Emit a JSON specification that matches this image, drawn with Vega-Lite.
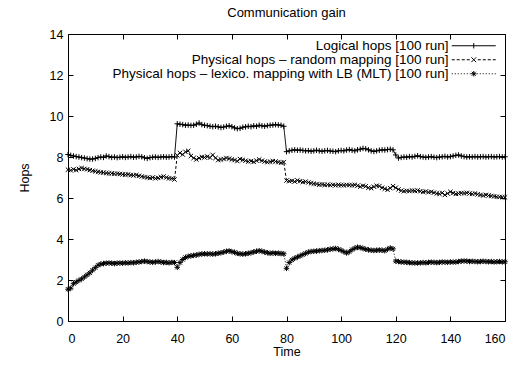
{
"$schema": "https://vega.github.io/schema/vega-lite/v6.json",
"width": 437,
"height": 287,
"autosize": {"type": "none"},
"padding": {"left": 68, "top": 34, "right": 24, "bottom": 44},
"background": "white",
"title": {"text": "Communication gain", "fontSize": 13, "font": "Liberation Sans", "fontWeight": "normal", "anchor": "middle", "offset": 8, "color": "#000"},
"config": {
  "view": {"stroke": null},
  "font": "Liberation Sans",
  "axis": {"labelFont": "Liberation Sans", "titleFont": "Liberation Sans", "labelFontSize": 12.5, "titleFontSize": 12.5, "titleFontWeight": "normal", "labelColor": "#000", "titleColor": "#000", "domainColor": "#000", "tickColor": "#000", "grid": false, "tickSize": -5, "domainWidth": 1, "tickWidth": 1}
},
"data": {"values": [
{"t":0,"a":8.12,"b":7.38,"c":1.55},{"t":1,"a":8.08,"b":7.35,"c":1.6},{"t":2,"a":8.05,"b":7.4,"c":1.82},{"t":3,"a":8.02,"b":7.36,"c":1.9},{"t":4,"a":8.0,"b":7.42,"c":1.98},
{"t":5,"a":7.97,"b":7.46,"c":2.05},{"t":6,"a":7.95,"b":7.42,"c":2.15},{"t":7,"a":7.92,"b":7.4,"c":2.25},{"t":8,"a":7.9,"b":7.36,"c":2.35},{"t":9,"a":7.9,"b":7.33,"c":2.48},
{"t":10,"a":7.93,"b":7.3,"c":2.6},{"t":11,"a":7.97,"b":7.28,"c":2.72},{"t":12,"a":8.0,"b":7.25,"c":2.78},{"t":13,"a":7.98,"b":7.24,"c":2.8},{"t":14,"a":8.05,"b":7.22,"c":2.82},
{"t":15,"a":8.02,"b":7.2,"c":2.83},{"t":16,"a":7.98,"b":7.2,"c":2.82},{"t":17,"a":8.0,"b":7.18,"c":2.8},{"t":18,"a":7.97,"b":7.19,"c":2.82},{"t":19,"a":7.99,"b":7.17,"c":2.83},
{"t":20,"a":8.01,"b":7.15,"c":2.82},{"t":21,"a":7.98,"b":7.14,"c":2.84},{"t":22,"a":8.0,"b":7.15,"c":2.83},{"t":23,"a":8.02,"b":7.12,"c":2.85},{"t":24,"a":7.99,"b":7.1,"c":2.84},
{"t":25,"a":8.0,"b":7.12,"c":2.86},{"t":26,"a":8.03,"b":7.08,"c":2.88},{"t":27,"a":8.01,"b":7.05,"c":2.9},{"t":28,"a":7.96,"b":7.02,"c":2.92},{"t":29,"a":7.93,"b":7.0,"c":2.9},
{"t":30,"a":7.97,"b":6.98,"c":2.88},{"t":31,"a":7.99,"b":7.0,"c":2.86},{"t":32,"a":8.0,"b":6.96,"c":2.88},{"t":33,"a":7.98,"b":6.98,"c":2.9},{"t":34,"a":8.0,"b":7.02,"c":2.88},
{"t":35,"a":8.01,"b":7.05,"c":2.85},{"t":36,"a":7.99,"b":7.0,"c":2.86},{"t":37,"a":8.0,"b":6.96,"c":2.84},{"t":38,"a":8.02,"b":6.95,"c":2.86},{"t":39,"a":8.0,"b":6.9,"c":2.85},
{"t":40,"a":9.62,"b":8.08,"c":2.62},{"t":41,"a":9.6,"b":8.2,"c":2.85},{"t":42,"a":9.58,"b":8.12,"c":3.0},{"t":43,"a":9.55,"b":8.25,"c":3.1},{"t":44,"a":9.56,"b":8.3,"c":3.15},
{"t":45,"a":9.54,"b":8.05,"c":3.18},{"t":46,"a":9.55,"b":7.95,"c":3.2},{"t":47,"a":9.6,"b":7.88,"c":3.22},{"t":48,"a":9.66,"b":7.95,"c":3.25},{"t":49,"a":9.58,"b":8.0,"c":3.27},
{"t":50,"a":9.55,"b":7.98,"c":3.28},{"t":51,"a":9.53,"b":8.02,"c":3.27},{"t":52,"a":9.5,"b":7.97,"c":3.28},{"t":53,"a":9.48,"b":8.1,"c":3.26},{"t":54,"a":9.5,"b":7.95,"c":3.28},
{"t":55,"a":9.47,"b":7.85,"c":3.3},{"t":56,"a":9.44,"b":7.88,"c":3.33},{"t":57,"a":9.46,"b":7.9,"c":3.36},{"t":58,"a":9.5,"b":7.95,"c":3.4},{"t":59,"a":9.52,"b":7.92,"c":3.42},
{"t":60,"a":9.48,"b":7.88,"c":3.38},{"t":61,"a":9.42,"b":7.85,"c":3.35},{"t":62,"a":9.38,"b":7.8,"c":3.3},{"t":63,"a":9.4,"b":7.9,"c":3.28},{"t":64,"a":9.45,"b":7.86,"c":3.26},
{"t":65,"a":9.47,"b":7.82,"c":3.28},{"t":66,"a":9.5,"b":7.78,"c":3.3},{"t":67,"a":9.48,"b":7.8,"c":3.33},{"t":68,"a":9.52,"b":7.76,"c":3.37},{"t":69,"a":9.5,"b":7.82,"c":3.4},
{"t":70,"a":9.55,"b":7.88,"c":3.43},{"t":71,"a":9.52,"b":7.82,"c":3.4},{"t":72,"a":9.5,"b":7.78,"c":3.36},{"t":73,"a":9.53,"b":7.75,"c":3.33},{"t":74,"a":9.55,"b":7.77,"c":3.3},
{"t":75,"a":9.56,"b":7.8,"c":3.32},{"t":76,"a":9.58,"b":7.78,"c":3.3},{"t":77,"a":9.56,"b":7.75,"c":3.31},{"t":78,"a":9.55,"b":7.72,"c":3.29},{"t":79,"a":9.5,"b":7.75,"c":3.28},
{"t":80,"a":8.26,"b":6.85,"c":2.57},{"t":81,"a":8.3,"b":6.82,"c":2.85},{"t":82,"a":8.33,"b":6.84,"c":2.98},{"t":83,"a":8.35,"b":6.8,"c":3.06},{"t":84,"a":8.33,"b":6.86,"c":3.12},
{"t":85,"a":8.34,"b":6.82,"c":3.18},{"t":86,"a":8.32,"b":6.78,"c":3.24},{"t":87,"a":8.3,"b":6.8,"c":3.3},{"t":88,"a":8.31,"b":6.76,"c":3.36},{"t":89,"a":8.28,"b":6.72,"c":3.39},
{"t":90,"a":8.3,"b":6.7,"c":3.4},{"t":91,"a":8.33,"b":6.68,"c":3.41},{"t":92,"a":8.3,"b":6.65,"c":3.43},{"t":93,"a":8.28,"b":6.66,"c":3.44},{"t":94,"a":8.3,"b":6.64,"c":3.45},
{"t":95,"a":8.32,"b":6.65,"c":3.47},{"t":96,"a":8.29,"b":6.63,"c":3.5},{"t":97,"a":8.28,"b":6.64,"c":3.52},{"t":98,"a":8.26,"b":6.62,"c":3.54},{"t":99,"a":8.3,"b":6.64,"c":3.5},
{"t":100,"a":8.32,"b":6.63,"c":3.45},{"t":101,"a":8.3,"b":6.62,"c":3.38},{"t":102,"a":8.34,"b":6.64,"c":3.32},{"t":103,"a":8.36,"b":6.63,"c":3.38},{"t":104,"a":8.33,"b":6.62,"c":3.48},
{"t":105,"a":8.3,"b":6.64,"c":3.55},{"t":106,"a":8.35,"b":6.6,"c":3.6},{"t":107,"a":8.38,"b":6.55,"c":3.58},{"t":108,"a":8.42,"b":6.6,"c":3.54},{"t":109,"a":8.4,"b":6.57,"c":3.5},
{"t":110,"a":8.35,"b":6.5,"c":3.47},{"t":111,"a":8.3,"b":6.48,"c":3.45},{"t":112,"a":8.27,"b":6.55,"c":3.44},{"t":113,"a":8.3,"b":6.6,"c":3.45},{"t":114,"a":8.33,"b":6.58,"c":3.46},
{"t":115,"a":8.35,"b":6.5,"c":3.45},{"t":116,"a":8.34,"b":6.45,"c":3.43},{"t":117,"a":8.36,"b":6.4,"c":3.5},{"t":118,"a":8.38,"b":6.48,"c":3.56},{"t":119,"a":8.35,"b":6.58,"c":3.52},
{"t":120,"a":8.1,"b":6.5,"c":2.92},{"t":121,"a":7.95,"b":6.42,"c":2.9},{"t":122,"a":7.98,"b":6.36,"c":2.88},{"t":123,"a":8.0,"b":6.33,"c":2.87},{"t":124,"a":7.99,"b":6.35,"c":2.86},
{"t":125,"a":8.02,"b":6.34,"c":2.85},{"t":126,"a":8.0,"b":6.36,"c":2.84},{"t":127,"a":8.03,"b":6.35,"c":2.83},{"t":128,"a":8.06,"b":6.37,"c":2.83},{"t":129,"a":8.02,"b":6.33,"c":2.84},
{"t":130,"a":8.0,"b":6.3,"c":2.85},{"t":131,"a":7.98,"b":6.32,"c":2.84},{"t":132,"a":8.0,"b":6.28,"c":2.86},{"t":133,"a":8.02,"b":6.3,"c":2.87},{"t":134,"a":7.99,"b":6.26,"c":2.86},
{"t":135,"a":7.97,"b":6.22,"c":2.85},{"t":136,"a":8.0,"b":6.2,"c":2.86},{"t":137,"a":8.01,"b":6.25,"c":2.88},{"t":138,"a":8.03,"b":6.15,"c":2.87},{"t":139,"a":8.0,"b":6.22,"c":2.86},
{"t":140,"a":8.02,"b":6.3,"c":2.88},{"t":141,"a":8.05,"b":6.24,"c":2.87},{"t":142,"a":8.08,"b":6.2,"c":2.88},{"t":143,"a":8.1,"b":6.22,"c":2.9},{"t":144,"a":8.05,"b":6.24,"c":2.92},
{"t":145,"a":8.02,"b":6.23,"c":2.93},{"t":146,"a":8.0,"b":6.25,"c":2.92},{"t":147,"a":8.01,"b":6.22,"c":2.9},{"t":148,"a":8.0,"b":6.2,"c":2.91},{"t":149,"a":8.02,"b":6.22,"c":2.9},
{"t":150,"a":8.0,"b":6.18,"c":2.89},{"t":151,"a":8.01,"b":6.15,"c":2.9},{"t":152,"a":8.02,"b":6.12,"c":2.91},{"t":153,"a":8.0,"b":6.15,"c":2.9},{"t":154,"a":8.01,"b":6.12,"c":2.89},
{"t":155,"a":8.02,"b":6.1,"c":2.9},{"t":156,"a":8.0,"b":6.08,"c":2.88},{"t":157,"a":8.01,"b":6.06,"c":2.89},{"t":158,"a":8.02,"b":6.05,"c":2.9},{"t":159,"a":8.0,"b":6.04,"c":2.88},
{"t":160,"a":8.01,"b":6.03,"c":2.89}
]},
"transform": [{"fold": ["a", "b", "c"], "as": ["series", "hops"]}],
"layer": [
  {
    "mark": {"type": "line", "strokeWidth": 1},
    "encoding": {
      "x": {"field": "t", "type": "quantitative", "scale": {"domain": [0, 160], "nice": false}, "axis": {"orient": "bottom", "values": [0,20,40,60,80,100,120,140,160], "title": "Time", "labelPadding": 16, "titlePadding": 1}},
      "y": {"field": "hops", "type": "quantitative", "scale": {"domain": [0, 14], "nice": false}, "axis": {"orient": "left", "values": [0,2,4,6,8,10,12,14], "title": "Hops", "labelPadding": 10, "titlePadding": 18}},
      "strokeDash": {"field": "series", "type": "nominal", "scale": {"domain": ["a", "b", "c"], "range": [[1,0],[3,2],[1,2]]}, "legend": null},
      "color": {"field": "series", "type": "nominal", "scale": {"range": ["#000", "#000", "#000"]},
        "legend": {"title": null, "orient": "none", "legendX": 399, "legendY": 5, "padding": 0, "rowPadding": -1,
          "labelFont": "Liberation Sans", "labelFontSize": 13.5, "labelColor": "#000", "labelAlign": "right", "labelOffset": -32, "symbolSize": 36, "labelLimit": 600,
          "labelExpr": "datum.label === 'a' ? 'Logical hops [100 run]' : datum.label === 'b' ? 'Physical hops – random mapping [100 run]' : 'Physical hops – lexico. mapping with LB (MLT) [100 run]'",
          "encode": {"symbols": {"update": {
            "shape": {"signal": "datum.value === 'a' ? 'M-7.33,0L7.33,0M0,-0.9L0,0.9' : datum.value === 'b' ? 'M-7.33,0L-6.33,0M-5.67,0L-4.67,0M-4,0L-3,0M-2.33,0L-1.33,0M1.33,0L2.33,0M3,0L4,0M4.67,0L5.67,0M6.33,0L7.33,0M-0.8,-0.8L0.8,0.8M-0.8,0.8L0.8,-0.8' : 'M-7.33,0L-7,0M-6.33,0L-6,0M-5.33,0L-5,0M-4.33,0L-4,0M-3.33,0L-3,0M-2.33,0L-2,0M-1.33,0L-1,0M1,0L1.33,0M2,0L2.33,0M3,0L3.33,0M4,0L4.33,0M5,0L5.33,0M6,0L6.33,0M7,0L7.33,0M-0.9,0L0.9,0M0,-0.9L0,0.9M-0.65,-0.65L0.65,0.65M-0.65,0.65L0.65,-0.65'"},
            "size": {"value": 36},
            "fill": {"value": "transparent"},
            "stroke": {"value": "#000"},
            "strokeDash": {"value": []},
            "strokeWidth": {"value": 1},
            "opacity": {"value": 1}
          }}}
        }
      }
    }
  },
  {
    "mark": {"type": "point", "filled": false, "color": "#000", "size": 30, "strokeWidth": 1, "opacity": 1},
    "encoding": {
      "x": {"field": "t", "type": "quantitative", "axis": null},
      "y": {"field": "hops", "type": "quantitative", "axis": null},
      "shape": {"field": "series", "type": "nominal",
        "scale": {"domain": ["a", "b", "c"], "range": ["M-1,0L1,0M0,-1L0,1", "M-0.8,-0.8L0.8,0.8M-0.8,0.8L0.8,-0.8", "M-1,0L1,0M0,-1L0,1M-0.75,-0.75L0.75,0.75M-0.75,0.75L0.75,-0.75"]},
        "legend": null
      }
    }
  },
  {
    "mark": {"type": "point", "opacity": 0},
    "encoding": {
      "x": {"field": "t", "type": "quantitative", "axis": {"orient": "top", "values": [0,20,40,60,80,100,120,140,160], "labels": false, "title": null}},
      "y": {"field": "hops", "type": "quantitative", "axis": {"orient": "right", "values": [0,2,4,6,8,10,12,14], "labels": false, "title": null}}
    }
  }
],
"resolve": {"axis": {"x": "independent", "y": "independent"}}
}
